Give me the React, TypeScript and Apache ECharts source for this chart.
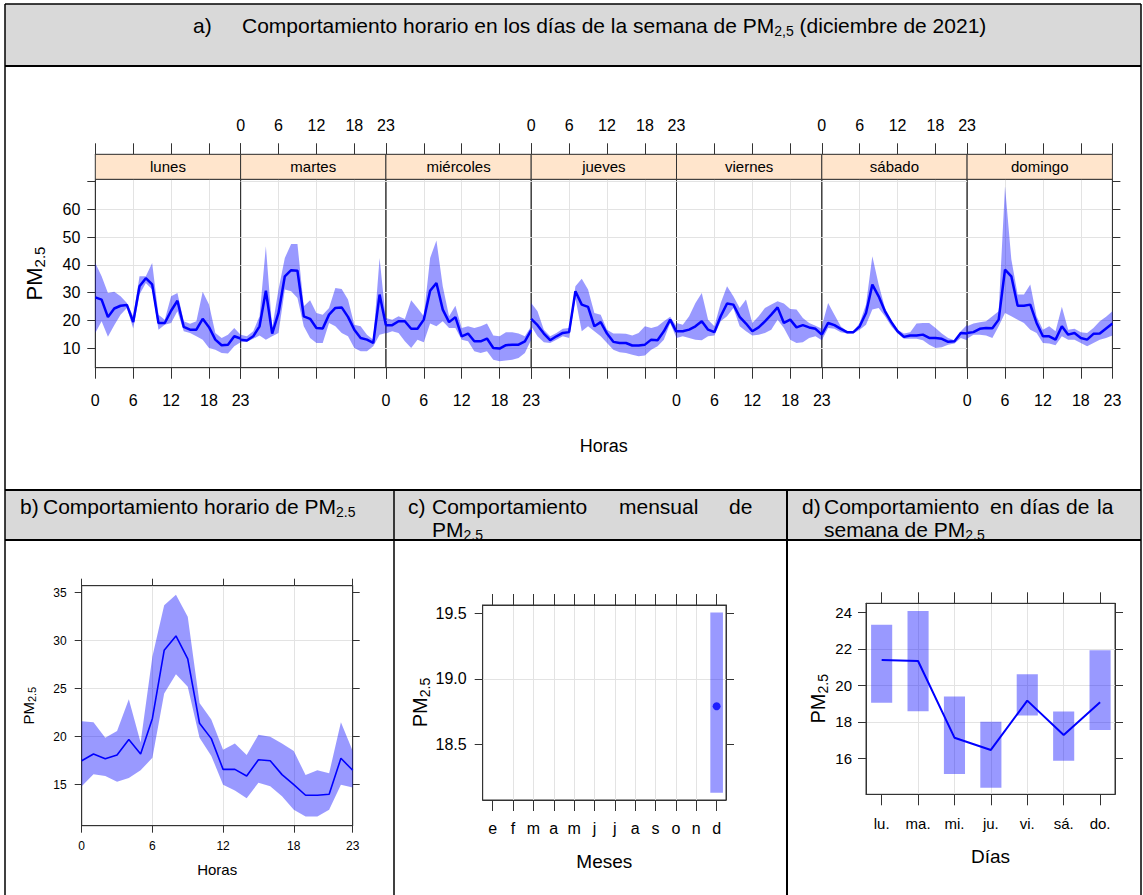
import React, { useEffect, useRef } from "react";
import * as echarts from "echarts";

// ---------------- data ----------------
const hours = [0, 1, 2, 3, 4, 5, 6, 7, 8, 9, 10, 11, 12, 13, 14, 15, 16, 17, 18, 19, 20, 21, 22, 23];
const weekdays = ["lunes", "martes", "miércoles", "jueves", "viernes", "sábado", "domingo"];

const lunesMean = [28.3, 27.5, 21.2, 24.3, 25.3, 25.6, 19.4, 32.3, 35.2, 33.0, 19.1, 19.1, 23.5, 27.1, 17.7, 16.7, 16.7, 20.6, 17.6, 13.1, 11.1, 11.3, 14.3, 13.5];
const lunesUp = [40.7, 35.9, 29.9, 30.3, 28.7, 26.3, 21.5, 35.9, 35.9, 40.7, 22.1, 20.3, 28.7, 29.9, 19.7, 18.8, 19.7, 30.3, 25.7, 15.5, 13.7, 14.9, 17.3, 14.9];
const lunesLo = [15.5, 19.7, 14.1, 18.3, 22.1, 24.5, 17.1, 29.3, 33.5, 31.1, 16.7, 18.5, 19.1, 23.3, 16.1, 15.5, 14.3, 13.1, 10.1, 9.5, 8.3, 8.1, 10.7, 12.2];

const martesMean = [13.1, 12.8, 14.3, 17.9, 30.7, 15.3, 22.7, 35.9, 38.1, 37.9, 21.5, 20.6, 17.3, 17.1, 22.1, 24.5, 24.7, 21.3, 16.7, 13.7, 13.1, 11.9, 29.3, 18.3];
const martesUp = [14.9, 14.3, 16.1, 21.5, 46.7, 17.3, 31.1, 42.5, 47.5, 47.5, 25.1, 27.3, 22.7, 22.1, 24.5, 31.7, 31.3, 27.5, 18.5, 17.9, 14.9, 13.1, 42.5, 20.3];
const martesLo = [12.2, 12.3, 13.4, 14.6, 13.1, 14.3, 15.5, 31.1, 30.5, 28.1, 17.9, 13.7, 11.9, 11.9, 19.1, 17.9, 15.5, 14.3, 10.1, 8.9, 8.9, 10.7, 14.9, 15.5];

const miercolesMean = [18.3, 18.3, 19.7, 19.7, 17.0, 17.0, 20.3, 30.7, 33.5, 23.9, 19.4, 21.2, 14.3, 15.3, 12.5, 12.5, 13.5, 10.1, 9.9, 11.1, 11.3, 11.3, 12.5, 16.5];
const miercolesUp = [20.9, 20.3, 21.5, 20.5, 27.3, 24.5, 21.5, 42.5, 48.8, 32.3, 21.5, 25.3, 17.3, 17.9, 17.3, 17.9, 18.9, 14.6, 14.3, 15.8, 15.8, 15.3, 14.3, 17.9];
const miercolesLo = [15.3, 16.1, 15.5, 12.5, 10.1, 13.1, 12.2, 18.9, 17.9, 19.7, 17.3, 17.3, 13.1, 12.5, 8.9, 8.3, 8.9, 5.9, 5.3, 5.6, 5.9, 6.5, 8.3, 13.1];

const juevesMean = [20.6, 18.3, 15.3, 12.9, 14.3, 15.5, 15.8, 30.5, 25.7, 24.9, 17.9, 19.4, 15.3, 12.3, 11.9, 11.9, 11.0, 11.0, 11.3, 13.1, 12.9, 16.1, 20.3, 15.9];
const juevesUp = [26.3, 23.3, 16.7, 14.3, 15.5, 17.0, 17.3, 32.3, 35.0, 31.1, 22.7, 22.1, 16.7, 15.3, 15.3, 15.2, 14.6, 15.5, 17.9, 17.3, 17.9, 19.7, 21.3, 17.9];
const juevesLo = [17.9, 14.3, 12.2, 11.9, 13.1, 14.3, 13.7, 28.0, 16.1, 17.9, 16.1, 14.3, 11.9, 9.5, 8.6, 8.3, 7.7, 7.1, 7.4, 9.5, 10.7, 13.1, 19.1, 13.7];

const viernesMean = [16.1, 16.1, 16.7, 17.9, 19.7, 16.7, 15.8, 21.5, 26.1, 25.7, 21.3, 18.9, 16.1, 17.5, 19.7, 22.1, 24.7, 19.1, 20.3, 17.5, 18.3, 17.5, 17.0, 14.9];
const viernesUp = [19.1, 18.5, 21.5, 26.3, 29.9, 20.3, 17.9, 26.3, 32.3, 28.7, 24.5, 27.5, 19.1, 21.5, 24.5, 25.7, 26.9, 26.1, 24.1, 23.9, 20.9, 19.1, 18.1, 17.0];
const viernesLo = [13.7, 14.3, 13.7, 13.1, 12.9, 14.3, 14.6, 19.7, 21.5, 24.5, 17.9, 16.1, 14.6, 14.9, 15.5, 16.7, 20.3, 17.3, 13.1, 11.9, 12.2, 13.7, 14.3, 12.9];

const sabadoMean = [14.9, 19.1, 18.3, 17.0, 15.8, 15.8, 17.9, 22.7, 32.9, 28.7, 23.3, 19.4, 16.1, 14.1, 14.6, 14.6, 14.9, 13.7, 13.7, 13.4, 12.3, 12.5, 15.5, 15.3];
const sabadoUp = [17.9, 26.3, 22.1, 17.9, 16.1, 16.1, 19.1, 25.7, 43.1, 32.9, 24.5, 20.3, 16.7, 15.3, 15.8, 18.9, 19.1, 19.1, 17.3, 15.3, 13.7, 12.9, 16.1, 18.5];
const sabadoLo = [12.9, 17.3, 17.0, 15.8, 15.3, 15.3, 16.7, 18.5, 23.9, 24.5, 21.5, 17.9, 15.3, 13.4, 13.4, 13.4, 12.9, 11.3, 10.1, 10.4, 11.3, 11.7, 13.7, 12.9];

const domingoMean = [15.5, 15.8, 17.0, 17.3, 17.2, 20.3, 38.3, 35.9, 25.3, 25.3, 25.7, 19.1, 14.3, 14.3, 13.1, 17.9, 14.9, 15.5, 13.7, 13.1, 15.2, 15.3, 17.1, 18.9];
const domingoUp = [17.9, 18.9, 19.4, 19.7, 21.5, 23.3, 68.3, 42.0, 29.3, 29.3, 32.9, 21.5, 16.7, 17.9, 16.1, 24.9, 16.7, 17.0, 15.8, 15.5, 17.3, 19.7, 21.3, 23.3];
const domingoLo = [13.4, 14.9, 14.9, 14.6, 13.7, 17.9, 22.7, 21.5, 20.3, 19.1, 16.7, 15.5, 11.9, 11.7, 11.1, 14.3, 13.1, 13.1, 11.9, 10.7, 11.9, 13.1, 13.7, 14.6];

const weekMeans = [lunesMean, martesMean, miercolesMean, juevesMean, viernesMean, sabadoMean, domingoMean];
const weekUps = [lunesUp, martesUp, miercolesUp, juevesUp, viernesUp, sabadoUp, domingoUp];
const weekLos = [lunesLo, martesLo, miercolesLo, juevesLo, viernesLo, sabadoLo, domingoLo];

const aTickVals = [10, 20, 30, 40, 50, 60, 70];
const aLabelVals = [10, 20, 30, 40, 50, 60];

const hourMean = [17.5, 18.2, 17.7, 18.1, 19.7, 18.2, 21.9, 29.0, 30.5, 28.1, 21.4, 19.8, 16.6, 16.6, 15.9, 17.6, 17.5, 16.05, 15.0, 13.9, 13.9, 14.0, 17.75, 16.5];
const hourUp = [21.6, 21.5, 19.9, 20.6, 23.9, 19.4, 28.35, 33.7, 34.8, 32.5, 23.5, 21.8, 18.65, 19.3, 18.1, 20.2, 20.0, 19.3, 18.5, 16.0, 16.5, 16.2, 21.5, 18.5];
const hourLo = [14.85, 16.1, 15.9, 15.3, 15.7, 16.5, 17.8, 24.5, 26.5, 25.2, 19.9, 18.0, 15.0, 14.4, 13.6, 15.2, 14.85, 13.8, 12.4, 11.7, 11.7, 12.4, 15.0, 14.7];
const bTickVals = [15, 20, 25, 30, 35];

const months = ["e", "f", "m", "a", "m", "j", "j", "a", "s", "o", "n", "d"];
const monthPos = [1, 2, 3, 4, 5, 6, 7, 8, 9, 10, 11, 12];
const monthMean = [null, null, null, null, null, null, null, null, null, null, null, 18.79];
const monthLo = [null, null, null, null, null, null, null, null, null, null, null, 18.13];
const monthUp = [null, null, null, null, null, null, null, null, null, null, null, 19.505];
const cTickVals = [18.5, 19.0, 19.5];

const dayAbbr = ["lu.", "ma.", "mi.", "ju.", "vi.", "sá.", "do."];
const dayPos = [1, 2, 3, 4, 5, 6, 7];
const dayMean = [21.39, 21.33, 17.13, 16.46, 19.16, 17.28, 19.07];
const dayLo = [19.05, 18.58, 15.14, 14.39, 18.34, 15.87, 17.55];
const dayUp = [23.31, 24.07, 19.38, 18.01, 20.6, 18.56, 21.92];
const dTickVals = [16, 18, 20, 22, 24];

// ---------------- style / layout ----------------
const NARROW = '"Liberation Sans", Arial, sans-serif';
const REG = '"Liberation Sans", Arial, sans-serif';
const AXC = "#333333";
const GRIDC = "#e3e3e3";
const BAND = "rgba(0,0,255,0.4)";
const LINE = "#0000ff";
const STRIP = "#ffe5cc";
const HEAD = "#d9d9d9";

const A_LEFT = 95.3;
const A_W = 145.3;
const A_TOP = 179.3;
const A_H = 188.4;
const A_STRIP = 25;
const A_YMIN = 3;
const A_YMAX = 70.8;

function axis(o: any) {
  const a: any = {
    type: "value",
    gridIndex: o.grid,
    position: o.pos,
    min: o.min,
    max: o.max,
    offset: o.offset || 0,
    axisLine: { show: o.line !== false, onZero: false, lineStyle: { color: AXC, width: 1 } },
    axisTick: { show: o.tickLen > 0, inside: false, length: o.tickLen || 0, lineStyle: { color: AXC, width: 1 } },
    axisLabel: {
      show: !!o.labels,
      margin: o.margin || 8,
      fontSize: o.size || 12,
      fontFamily: o.font || REG,
      color: "#000",
      hideOverlap: false,
    },
    splitLine: { show: !!o.split, showMinLine: false, showMaxLine: false, lineStyle: { color: GRIDC, width: 1 } },
  };
  if (o.interval != null) a.interval = o.interval;
  if (o.splitNumber != null) a.splitNumber = o.splitNumber;
  if (o.tickVals) a.axisTick.customValues = o.tickVals;
  if (o.labelVals) a.axisLabel.customValues = o.labelVals;
  if (o.fmt) a.axisLabel.formatter = o.fmt;
  if (o.name) {
    a.name = o.name;
    a.nameLocation = "middle";
    a.nameGap = o.nameGap;
    a.nameTextStyle = o.nameStyle;
  }
  return a;
}

function pmName(big: number, small: number) {
  return {
    name: "{p|PM}{s|2.5}",
    style: {
      color: "#000",
      fontFamily: REG,
      rich: {
        p: { fontSize: big, fontFamily: REG, color: "#000", lineHeight: big + 4 },
        s: { fontSize: small, fontFamily: REG, color: "#000", lineHeight: small - 2, verticalAlign: "bottom" },
      },
    },
  };
}

function bandSeries(xi: number, yi: number, xs: number[], lo: number[], up: number[]) {
  return {
    type: "custom",
    coordinateSystem: "cartesian2d",
    xAxisIndex: xi,
    yAxisIndex: yi,
    silent: true,
    z: 1,
    data: xs.map((x, i) => [x, lo[i], up[i]]),
    encode: { x: 0, y: [1, 2] },
    renderItem: (params: any, api: any) => {
      if (params.dataIndex !== 0) return null;
      const pts: number[][] = [];
      for (let i = 0; i < xs.length; i++) pts.push(api.coord([xs[i], up[i]]));
      for (let i = xs.length - 1; i >= 0; i--) pts.push(api.coord([xs[i], lo[i]]));
      return { type: "polygon", shape: { points: pts }, style: { fill: BAND } };
    },
  };
}

function rangeBars(xi: number, yi: number, xs: number[], lo: any[], up: any[], widthUnits: number) {
  return {
    type: "custom",
    coordinateSystem: "cartesian2d",
    xAxisIndex: xi,
    yAxisIndex: yi,
    silent: true,
    z: 1,
    data: xs.map((x, i) => [x, lo[i], up[i]]).filter((r) => r[1] != null),
    encode: { x: 0, y: [1, 2] },
    renderItem: (params: any, api: any) => {
      const x = api.value(0);
      const top = api.coord([x, api.value(2)]);
      const bot = api.coord([x, api.value(1)]);
      const w = api.size([widthUnits, 0])[0];
      return {
        type: "rect",
        shape: { x: top[0] - w / 2, y: top[1], width: w, height: bot[1] - top[1] },
        style: { fill: BAND },
      };
    },
  };
}

function buildOption() {
  const grid: any[] = [];
  const xAxis: any[] = [];
  const yAxis: any[] = [];
  const series: any[] = [];
  const graphic: any[] = [];

  const gridBase = { show: true, borderColor: AXC, borderWidth: 1, backgroundColor: "transparent", containLabel: false, outerBoundsMode: "none" };

  // ----- panel a -----
  const pmA = pmName(22, 15);
  weekdays.forEach((day, p) => {
    grid.push({ ...gridBase, left: A_LEFT + p * A_W, top: A_TOP, width: A_W, height: A_H });
    xAxis.push(
      axis({
        grid: p, pos: "bottom", min: 0, max: 23, interval: 6, tickLen: 11,
        labels: p % 2 === 0, size: 16, font: NARROW, margin: 25, split: true,
        name: p === 3 ? "Horas" : undefined, nameGap: 69,
        nameStyle: { fontSize: 18, fontFamily: NARROW, color: "#000" },
      })
    );
    xAxis.push(
      axis({
        grid: p, pos: "top", offset: A_STRIP, min: 0, max: 23, interval: 6, tickLen: 11,
        labels: p % 2 === 1, size: 16, font: NARROW, margin: 21, split: false,
      })
    );
    if (p === 0) {
      yAxis.push(
        axis({
          grid: p, pos: "left", min: A_YMIN, max: A_YMAX, tickLen: 8, tickVals: aTickVals, labelVals: aLabelVals,
          labels: true, size: 16, font: NARROW, margin: 15, split: true,
          name: pmA.name, nameGap: 48, nameStyle: pmA.style,
        })
      );
    } else if (p === 6) {
      yAxis.push(axis({ grid: p, pos: "right", min: A_YMIN, max: A_YMAX, tickLen: 8, tickVals: aTickVals, labels: false, split: true }));
    } else {
      yAxis.push(axis({ grid: p, pos: "left", min: A_YMIN, max: A_YMAX, tickLen: 0, labels: false, split: true, line: false }));
    }
    series.push(bandSeries(2 * p, p, hours, weekLos[p], weekUps[p]));
    series.push({
      type: "line", xAxisIndex: 2 * p, yAxisIndex: p, symbol: "none", silent: true, z: 3,
      data: hours.map((h, i) => [h, weekMeans[p][i]]),
      lineStyle: { color: LINE, width: 2.5 },
    });
    // strip
    graphic.push({
      type: "rect",
      shape: { x: A_LEFT + p * A_W, y: A_TOP - A_STRIP, width: A_W, height: A_STRIP },
      style: { fill: STRIP, stroke: AXC, lineWidth: 1 },
      z: 5,
    });
    graphic.push({
      type: "text",
      x: A_LEFT + p * A_W + A_W / 2,
      y: A_TOP - A_STRIP / 2,
      style: { text: day, fontSize: 15, fontFamily: NARROW, fill: "#000", align: "center", verticalAlign: "middle" },
      z: 6,
    });
  });

  // ----- panel b -----
  const gB = grid.length;
  grid.push({ ...gridBase, left: 81.7, top: 585.7, width: 271, height: 240 });
  const xB = xAxis.length;
  xAxis.push(axis({
    grid: gB, pos: "bottom", min: 0, max: 23, interval: 6, tickLen: 7, labels: true, size: 12, font: REG, margin: 14, split: true,
    name: "Horas", nameGap: 36, nameStyle: { fontSize: 15, fontFamily: REG, color: "#000" },
  }));
  xAxis.push(axis({ grid: gB, pos: "top", min: 0, max: 23, interval: 6, tickLen: 7, labels: false, split: false }));
  const yB = yAxis.length;
  const pmB = pmName(15, 11);
  yAxis.push(axis({
    grid: gB, pos: "left", min: 10.73, max: 35.73, tickLen: 7, tickVals: bTickVals, labelVals: bTickVals,
    labels: true, size: 12, font: REG, margin: 15, split: true, name: pmB.name, nameGap: 44, nameStyle: pmB.style,
  }));
  yAxis.push(axis({ grid: gB, pos: "right", min: 10.73, max: 35.73, tickLen: 7, tickVals: bTickVals, labels: false, split: false }));
  series.push(bandSeries(xB, yB, hours, hourLo, hourUp));
  series.push({
    type: "line", xAxisIndex: xB, yAxisIndex: yB, symbol: "none", silent: true, z: 3,
    data: hours.map((h, i) => [h, hourMean[i]]),
    lineStyle: { color: LINE, width: 1.6 },
  });

  // ----- panel c -----
  const gC = grid.length;
  grid.push({ ...gridBase, left: 482.7, top: 605, width: 243.3, height: 195 });
  const xC = xAxis.length;
  const monthFmt = (v: number) => months[Math.round(v) - 1] || "";
  xAxis.push(axis({
    grid: gC, pos: "bottom", min: 0.51, max: 12.46, splitNumber: 12, tickLen: 11, tickVals: monthPos, labelVals: monthPos,
    fmt: monthFmt, labels: true, size: 16, font: NARROW, margin: 20, split: true,
    name: "Meses", nameGap: 52, nameStyle: { fontSize: 19, fontFamily: NARROW, color: "#000" },
  }));
  xAxis.push(axis({ grid: gC, pos: "top", min: 0.51, max: 12.46, splitNumber: 12, tickLen: 11, tickVals: monthPos, labels: false, split: false }));
  const yC = yAxis.length;
  const pmC = pmName(20, 14);
  yAxis.push(axis({
    grid: gC, pos: "left", min: 18.075, max: 19.563, splitNumber: 3, tickLen: 8, tickVals: cTickVals, labelVals: cTickVals,
    fmt: (v: number) => v.toFixed(1), labels: true, size: 16, font: NARROW, margin: 16, split: true,
    name: pmC.name, nameGap: 50, nameStyle: pmC.style,
  }));
  yAxis.push(axis({ grid: gC, pos: "right", min: 18.075, max: 19.563, splitNumber: 3, tickLen: 8, tickVals: cTickVals, labels: false, split: false }));
  series.push(rangeBars(xC, yC, monthPos, monthLo, monthUp, 0.62));
  series.push({
    type: "scatter", xAxisIndex: xC, yAxisIndex: yC, silent: true, z: 3, symbolSize: 8,
    itemStyle: { color: LINE },
    data: monthPos.map((m, i) => [m, monthMean[i]]).filter((r) => r[1] != null),
  });

  // ----- panel d -----
  const gD = grid.length;
  grid.push({ ...gridBase, left: 866, top: 603.3, width: 249, height: 191 });
  const xD = xAxis.length;
  const dayFmt = (v: number) => dayAbbr[Math.round(v) - 1] || "";
  xAxis.push(axis({
    grid: gD, pos: "bottom", min: 0.57, max: 7.41, splitNumber: 7, tickLen: 11, tickVals: dayPos, labelVals: dayPos,
    fmt: dayFmt, labels: true, size: 15, font: NARROW, margin: 22, split: true,
    name: "Días", nameGap: 53, nameStyle: { fontSize: 19, fontFamily: NARROW, color: "#000" },
  }));
  xAxis.push(axis({ grid: gD, pos: "top", min: 0.57, max: 7.41, splitNumber: 7, tickLen: 11, tickVals: dayPos, labels: false, split: false }));
  const yD = yAxis.length;
  const pmD = pmName(20, 14);
  yAxis.push(axis({
    grid: gD, pos: "left", min: 14.03, max: 24.49, splitNumber: 5, tickLen: 8, tickVals: dTickVals, labelVals: dTickVals,
    labels: true, size: 15, font: NARROW, margin: 14, split: true, name: pmD.name, nameGap: 36, nameStyle: pmD.style,
  }));
  yAxis.push(axis({ grid: gD, pos: "right", min: 14.03, max: 24.49, splitNumber: 5, tickLen: 8, tickVals: dTickVals, labels: false, split: false }));
  series.push(rangeBars(xD, yD, dayPos, dayLo, dayUp, 0.58));
  series.push({
    type: "line", xAxisIndex: xD, yAxisIndex: yD, symbol: "none", silent: true, z: 3,
    data: dayPos.map((d, i) => [d, dayMean[i]]),
    lineStyle: { color: LINE, width: 2 },
  });

  // ----- table frame -----
  const L = 5, R = 1141, T = 4, HA = 66, R2 = 490, R2H = 540, C1 = 394, C2 = 787, B = 895;
  graphic.push({ type: "rect", shape: { x: L, y: T, width: R - L, height: HA - T }, style: { fill: HEAD }, z: 0 });
  graphic.push({ type: "rect", shape: { x: L, y: R2, width: R - L, height: R2H - R2 }, style: { fill: HEAD }, z: 0 });
  const hl = (y: number, w: number) => ({ type: "line", shape: { x1: L, y1: y, x2: R, y2: y }, style: { stroke: "#000", lineWidth: w }, z: 2 });
  const vl = (x: number, y1: number, w: number) => ({ type: "line", shape: { x1: x, y1, x2: x, y2: B }, style: { stroke: "#000", lineWidth: w }, z: 2 });
  graphic.push(hl(T, 1.5), hl(HA, 2), hl(R2, 2), hl(R2H, 2));
  graphic.push(vl(L, T, 1.5), vl(R, T, 1.5), vl(C1, R2, 1.5), vl(C2, R2, 2));

  // ----- header texts -----
  const subRich = (fs: number, ss: number, fam: string) => ({
    t: { fontSize: fs, fontFamily: fam, fill: "#000", lineHeight: fs + 4 },
    s: { fontSize: ss, fontFamily: fam, fill: "#000", lineHeight: ss - 2, verticalAlign: "bottom" },
  });
  const txt = (x: number, y: number, text: string, extra: any = {}) => ({
    type: "text", x, y, z: 6,
    style: { text, fontSize: 21, fontFamily: REG, fill: "#000", verticalAlign: "middle", align: "left" },
    ...extra,
  });
  graphic.push(txt(193, 25, "a)"));
  graphic.push({
    type: "text", x: 242, y: 25, z: 6,
    style: {
      text: "{t|Comportamiento horario en los días de la semana de PM}{s|2,5}{t| (diciembre de 2021)}",
      rich: subRich(21, 14, REG), verticalAlign: "middle", align: "left",
    },
  });
  graphic.push(txt(20, 506, "b)"));
  graphic.push({
    type: "text", x: 43, y: 506, z: 6,
    style: { text: "{t|Comportamiento horario de PM}{s|2.5}", rich: subRich(21, 14, REG), verticalAlign: "middle", align: "left" },
  });
  graphic.push(txt(408, 506, "c)"), txt(432, 506, "Comportamiento"), txt(619, 506, "mensual"), txt(729, 506, "de"));
  graphic.push({
    type: "text", x: 432, y: 529, z: 6,
    style: { text: "{t|PM}{s|2.5}", rich: subRich(21, 14, REG), verticalAlign: "middle", align: "left" },
  });
  graphic.push(
    txt(802, 506, "d)"), txt(824, 506, "Comportamiento"), txt(990, 506, "en"),
    txt(1020, 506, "días"), txt(1066, 506, "de"), txt(1097, 506, "la")
  );
  graphic.push({
    type: "text", x: 824, y: 529, z: 6,
    style: { text: "{t|semana de PM}{s|2.5}", rich: subRich(21, 14, REG), verticalAlign: "middle", align: "left" },
  });

  return {
    animation: false,
    backgroundColor: "#ffffff",
    grid,
    xAxis,
    yAxis,
    series,
    graphic: { elements: graphic },
  };
}

export default function App() {
  const ref = useRef<HTMLDivElement>(null);
  useEffect(() => {
    if (!ref.current) return;
    const chart = echarts.init(ref.current, undefined, { renderer: "svg" });
    chart.setOption(buildOption() as any);
    return () => chart.dispose();
  }, []);
  return (
    <div
      ref={ref}
      style={{ position: "fixed", left: 0, top: 0, width: 1143, height: 895, background: "#fff" }}
    />
  );
}
